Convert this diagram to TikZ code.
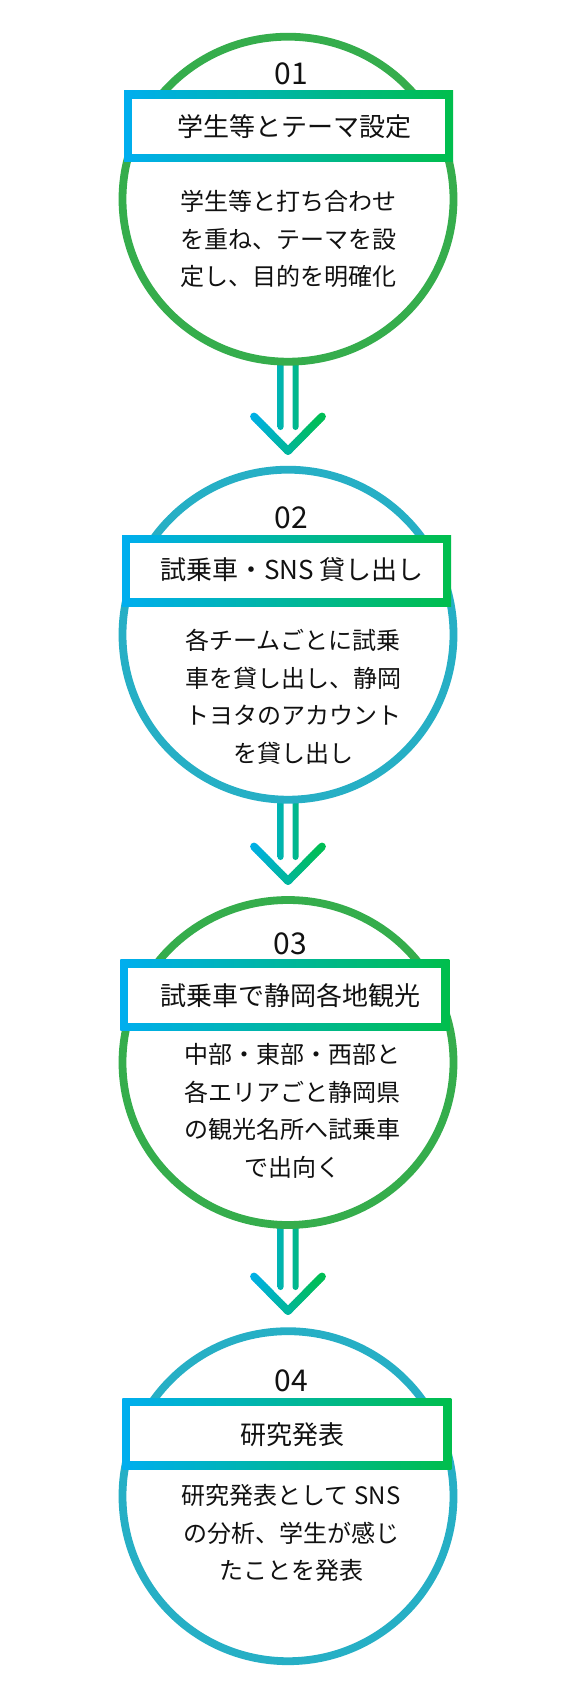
\documentclass[tikz,border=0pt]{standalone}
\usepackage{fontspec}
\setmainfont{Noto Sans CJK JP}
\usetikzlibrary{calc,shapes.geometric}
\definecolor{cgreen}{HTML}{35AD4C}
\definecolor{cteal}{HTML}{26AFC5}
\definecolor{gblue}{HTML}{00AEEF}
\definecolor{ggreen}{HTML}{00BE4C}
\definecolor{ink}{HTML}{111111}
\pgfdeclarelayer{bg}
\pgfsetlayers{bg,main}
\begin{document}
\begin{tikzpicture}[x=1pt,y=-1pt,
  ring/.style={ellipse, draw=#1, line width=7.8pt, inner sep=0pt, minimum width=331pt},
  greenring/.style={ring=cgreen, minimum height=325pt},
  tealring/.style={ring=cteal, minimum height=330pt},
  tbox/.style={rectangle, inner sep=0pt, minimum width=329pt, minimum height=71pt,
    left color=gblue, right color=ggreen,
    path picture={\fill[white] ([shift={(8pt,8pt)}]path picture bounding box.south west)
      rectangle ([shift={(-8pt,-8pt)}]path picture bounding box.north east);}},
  numtxt/.style={inner sep=0pt, text=ink, font=\fontsize{30pt}{30pt}\selectfont},
  ttltxt/.style={inner sep=0pt, text=ink, font=\fontsize{26pt}{30pt}\selectfont},
  bodytxt/.style={inner sep=0pt, text=ink, align=center, font=\fontsize{24pt}{37.5pt}\selectfont},
  chev/.style={line width=7.8pt, line cap=round}]

\begin{pgfonlayer}{bg}
  \fill[white] (0,0) rectangle (576,1700);
\end{pgfonlayer}
\path[use as bounding box] (0,0) rectangle (576,1700);

% circles
\node[greenring] (c1) at (288,199.2) {};
\node[tealring]  (c2) at (288,634.7) {};
\node[greenring] (c3) at (288,1062.5) {};
\node[tealring]  (c4) at (288,1496.2) {};

% title boxes
\node[tbox] (b1) at (288.5,126.2) {};
\node[tbox] (b2) at (286.7,570.5) {};
\node[tbox] (b3) at (284.9,995.4) {};
\node[tbox] (b4) at (286.9,1433.5) {};

% numbers
\node[numtxt] (n1) at (291.5,74) {01};
\node[numtxt] (n2) at (291.5,517.5) {02};
\node[numtxt] (n3) at (290,943.5) {03};
\node[numtxt] (n4) at (291.5,1381) {04};

% titles
\node[ttltxt] (t1) at (294,126.5) {学生等とテーマ設定};
\node[ttltxt] (t2) at (292,570) {試乗車・SNS 貸し出し};
\node[ttltxt] (t3) at (290.7,995.5) {試乗車で静岡各地観光};
\node[ttltxt] (t4) at (292.5,1435) {研究発表};

% bodies
\node[bodytxt] (d1) at (288.5,239.2) {学生等と打ち合わせ\\を重ね、テーマを設\\定し、目的を明確化};
\node[bodytxt] (d2) at (293,696.7) {各チームごとに試乗\\車を貸し出し、静岡\\トヨタのアカウント\\を貸し出し};
\node[bodytxt] (d3) at (292,1110.8) {中部・東部・西部と\\各エリアごと静岡県\\の観光名所へ試乗車\\で出向く};
\node[bodytxt] (d4) at (291,1533.3) {研究発表として SNS\\の分析、学生が感じ\\たことを発表};

% arrows
\foreach \n/\oy in {1/0,2/430,3/860}{
  \coordinate (a\n L) at (254,416.5+\oy);
  \coordinate (a\n T) at (288,451+\oy);
  \coordinate (a\n R) at (322,416.5+\oy);
  \coordinate (a\n s1) at ($(c\n.south)+(-10.5,-5)$);
  \coordinate (a\n s2) at ($(c\n.south)+(4.5,-5)$);
  \coordinate (a\n e1) at (283.5,430+\oy);
  \coordinate (a\n e2) at (298.5,430+\oy);
  \begin{pgfonlayer}{bg}
    \begin{scope}
      \clip[rounded corners=3pt] (a\n s1) rectangle (a\n e1) (a\n s2) rectangle (a\n e2);
      \shade[left color=gblue, right color=ggreen] (250.5,300+\oy) rectangle (325.5,440+\oy);
    \end{scope}
  \end{pgfonlayer}
  \foreach \k in {0,...,15}{
    \pgfmathsetmacro\ta{\k/16}
    \pgfmathsetmacro\tb{(\k+1)/16}
    \pgfmathtruncatemacro\pl{round((254+34*(\k+0.5)/16-250.5)/75*100)}
    \pgfmathtruncatemacro\pr{round((288+34*(\k+0.5)/16-250.5)/75*100)}
    \draw[chev, color=ggreen!\pl!gblue] ($(a\n L)!\ta!(a\n T)$) -- ($(a\n L)!\tb!(a\n T)$);
    \draw[chev, color=ggreen!\pr!gblue] ($(a\n T)!\ta!(a\n R)$) -- ($(a\n T)!\tb!(a\n R)$);
  }
}
\end{tikzpicture}
\end{document}
